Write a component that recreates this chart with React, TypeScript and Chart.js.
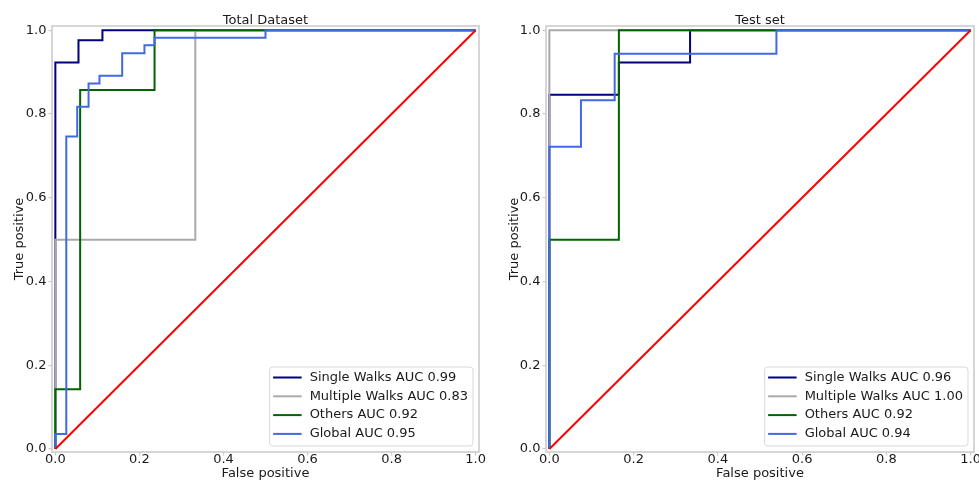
import React, { useEffect, useRef } from 'react';
import { Chart, registerables } from 'chart.js';

Chart.register(...registerables);

const FONT = '"DejaVu Sans", sans-serif';
const FONT_SIZE = 13;
const TEXT = '#1a1a1a';
const FRAME = '#cccccc';

const tickValues = [0, 0.2, 0.4, 0.6, 0.8, 1.0];

const seriesNames = ['Single Walks', 'Multiple Walks', 'Others', 'Global'];
const seriesColors = ['#000080', '#a9a9a9', '#006400', '#4169e1'];
const diagColor = '#ff0000';
const diagFpr = [0, 1];
const diagTpr = [0, 1];

// ---- Total Dataset ----
const totalTitle = 'Total Dataset';
const totalAuc = [0.99, 0.83, 0.92, 0.95];
const totalSingleFpr = [0, 0, 0.055, 0.055, 0.112, 0.112, 1];
const totalSingleTpr = [0, 0.923, 0.923, 0.976, 0.976, 1, 1];
const totalMultipleFpr = [0, 0, 0.333, 0.333, 1];
const totalMultipleTpr = [0, 0.5, 0.5, 1, 1];
const totalOthersFpr = [0, 0, 0.059, 0.059, 0.236, 0.236, 1];
const totalOthersTpr = [0, 0.143, 0.143, 0.857, 0.857, 1, 1];
const totalGlobalFpr = [0, 0, 0.026, 0.026, 0.052, 0.052, 0.079, 0.079, 0.105, 0.105, 0.159, 0.159, 0.212, 0.212, 0.236, 0.236, 0.5, 0.5, 1];
const totalGlobalTpr = [0, 0.036, 0.036, 0.746, 0.746, 0.817, 0.817, 0.873, 0.873, 0.891, 0.891, 0.945, 0.945, 0.964, 0.964, 0.982, 0.982, 1, 1];

// ---- Test set ----
const testTitle = 'Test set';
const testAuc = [0.96, 1.0, 0.92, 0.94];
const testSingleFpr = [0, 0, 0.165, 0.165, 0.334, 0.334, 1];
const testSingleTpr = [0, 0.846, 0.846, 0.923, 0.923, 1, 1];
const testMultipleFpr = [0, 0, 1];
const testMultipleTpr = [0, 1, 1];
const testOthersFpr = [0, 0, 0.165, 0.165, 1];
const testOthersTpr = [0, 0.5, 0.5, 1, 1];
const testGlobalFpr = [0, 0, 0.075, 0.075, 0.155, 0.155, 0.539, 0.539, 1];
const testGlobalTpr = [0, 0.722, 0.722, 0.833, 0.833, 0.944, 0.944, 1, 1];

function makeDatasets(fprs: number[][], tprs: number[][], aucs: number[]) {
  const ds: any[] = seriesNames.map((name, i) => ({
    label: `${name} AUC ${aucs[i].toFixed(2)}`,
    data: fprs[i].map((x, j) => ({ x, y: tprs[i][j] })),
    borderColor: seriesColors[i],
    backgroundColor: seriesColors[i],
    borderWidth: 2,
    pointRadius: 0,
    pointHoverRadius: 0,
    showLine: true,
    fill: false,
    tension: 0,
    order: 10 - i,
  }));
  ds.push({
    label: 'chance',
    data: diagFpr.map((x, j) => ({ x, y: diagTpr[j] })),
    borderColor: diagColor,
    backgroundColor: diagColor,
    borderWidth: 2,
    pointRadius: 0,
    pointHoverRadius: 0,
    showLine: true,
    fill: false,
    order: 1,
  });
  return ds;
}

const decorPlugin = {
  id: 'rocDecor',
  afterDraw(chart: any, _args: any, opts: any) {
    const { ctx, chartArea: a } = chart;
    ctx.save();
    // frame
    ctx.strokeStyle = FRAME;
    ctx.lineWidth = 1.6;
    ctx.strokeRect(a.left, a.top, a.right - a.left, a.bottom - a.top);
    // title
    ctx.fillStyle = TEXT;
    ctx.font = `${FONT_SIZE}px ${FONT}`;
    ctx.textAlign = 'center';
    ctx.textBaseline = 'alphabetic';
    ctx.fillText(opts.title, (a.left + a.right) / 2, a.top - 2.5);
    // legend
    const items = chart.data.datasets.slice(0, 4);
    const maxW = Math.max(...items.map((d: any) => ctx.measureText(d.label).width));
    const rowH = 18.8;
    const boxW = 40 + maxW + 5;
    const boxH = 79;
    const right = a.right - 6;
    const bottom = a.bottom - 6;
    const left = right - boxW;
    const top = bottom - boxH;
    ctx.beginPath();
    const r = 3;
    ctx.moveTo(left + r, top);
    ctx.lineTo(right - r, top);
    ctx.arcTo(right, top, right, top + r, r);
    ctx.lineTo(right, bottom - r);
    ctx.arcTo(right, bottom, right - r, bottom, r);
    ctx.lineTo(left + r, bottom);
    ctx.arcTo(left, bottom, left, bottom - r, r);
    ctx.lineTo(left, top + r);
    ctx.arcTo(left, top, left + r, top, r);
    ctx.closePath();
    ctx.fillStyle = 'rgba(255,255,255,0.8)';
    ctx.fill();
    ctx.strokeStyle = '#d9d9d9';
    ctx.lineWidth = 1;
    ctx.stroke();
    items.forEach((d: any, i: number) => {
      const y = top + 10.5 + i * rowH;
      ctx.beginPath();
      ctx.strokeStyle = d.borderColor;
      ctx.lineWidth = 2;
      ctx.moveTo(left + 3.5, y);
      ctx.lineTo(left + 32, y);
      ctx.stroke();
      ctx.fillStyle = TEXT;
      ctx.textAlign = 'left';
      ctx.textBaseline = 'middle';
      ctx.fillText(d.label, left + 40, y);
    });
    ctx.restore();
  },
};

type Props = {
  left: number;
  width: number;
  title: string;
  datasets: any[];
  yWidth: number;
  padRight: number;
  yTitlePad: number;
};

function RocChart({ left, width, title, datasets, yWidth, padRight, yTitlePad }: Props) {
  const ref = useRef<HTMLCanvasElement>(null);
  useEffect(() => {
    const font = { family: FONT, size: FONT_SIZE };
    const grid = {
      display: true,
      drawOnChartArea: false,
      drawTicks: true,
      tickLength: 3.5,
      color: FRAME,
      lineWidth: 1.2,
    };
    const chart = new Chart(ref.current as HTMLCanvasElement, {
      type: 'scatter',
      data: { datasets },
      plugins: [decorPlugin as any],
      options: {
        responsive: false,
        animation: false,
        events: [],
        layout: { padding: { left: 0, right: padRight, top: 26, bottom: 0 } },
        plugins: {
          legend: { display: false },
          tooltip: { enabled: false },
          title: { display: false },
          rocDecor: { title },
        } as any,
        scales: {
          x: {
            type: 'linear',
            min: -0.008,
            max: 1.008,
            afterBuildTicks: (s: any) => {
              s.ticks = tickValues.map((v) => ({ value: v }));
            },
            afterFit: (s: any) => {
              s.height = 30;
              s.paddingLeft = 0;
              s.paddingRight = 0;
            },
            ticks: {
              callback: (v: any) => Number(v).toFixed(1),
              font,
              color: TEXT,
              padding: -3.3,
              maxRotation: 0,
              autoSkip: false,
            },
            grid,
            border: { display: false },
            title: {
              display: true,
              text: 'False positive',
              font,
              color: TEXT,
              padding: { top: 0, bottom: 0.2 },
            },
          },
          y: {
            type: 'linear',
            min: -0.007,
            max: 1.01,
            afterBuildTicks: (s: any) => {
              s.ticks = tickValues.map((v) => ({ value: v }));
            },
            afterFit: (s: any) => {
              s.width = yWidth;
              s.paddingTop = 0;
              s.paddingBottom = 0;
            },
            ticks: {
              callback: (v: any) => Number(v).toFixed(1),
              font,
              color: TEXT,
              padding: 2,
              autoSkip: false,
            },
            grid,
            border: { display: false },
            title: {
              display: true,
              text: 'True positive',
              font,
              color: TEXT,
              padding: { top: yTitlePad, bottom: 0 },
            },
          },
        },
      } as any,
    });
    return () => chart.destroy();
  }, []);
  return (
    <canvas
      ref={ref}
      width={width}
      height={482}
      style={{ position: 'absolute', left, top: 0, width, height: 482 }}
    />
  );
}

export default function App() {
  const totalDatasets = makeDatasets(
    [totalSingleFpr, totalMultipleFpr, totalOthersFpr, totalGlobalFpr],
    [totalSingleTpr, totalMultipleTpr, totalOthersTpr, totalGlobalTpr],
    totalAuc
  );
  const testDatasets = makeDatasets(
    [testSingleFpr, testMultipleFpr, testOthersFpr, testGlobalFpr],
    [testSingleTpr, testMultipleTpr, testOthersTpr, testGlobalTpr],
    testAuc
  );
  return (
    <div style={{ position: 'fixed', left: 0, top: 0, width: 979, height: 482, background: '#fff', overflow: 'hidden' }}>
      <RocChart left={0} width={490} title={totalTitle} datasets={totalDatasets} yWidth={52} padRight={11} yTitlePad={12.2} />
      <RocChart left={490} width={489} title={testTitle} datasets={testDatasets} yWidth={56} padRight={5} yTitlePad={16.7} />
    </div>
  );
}
